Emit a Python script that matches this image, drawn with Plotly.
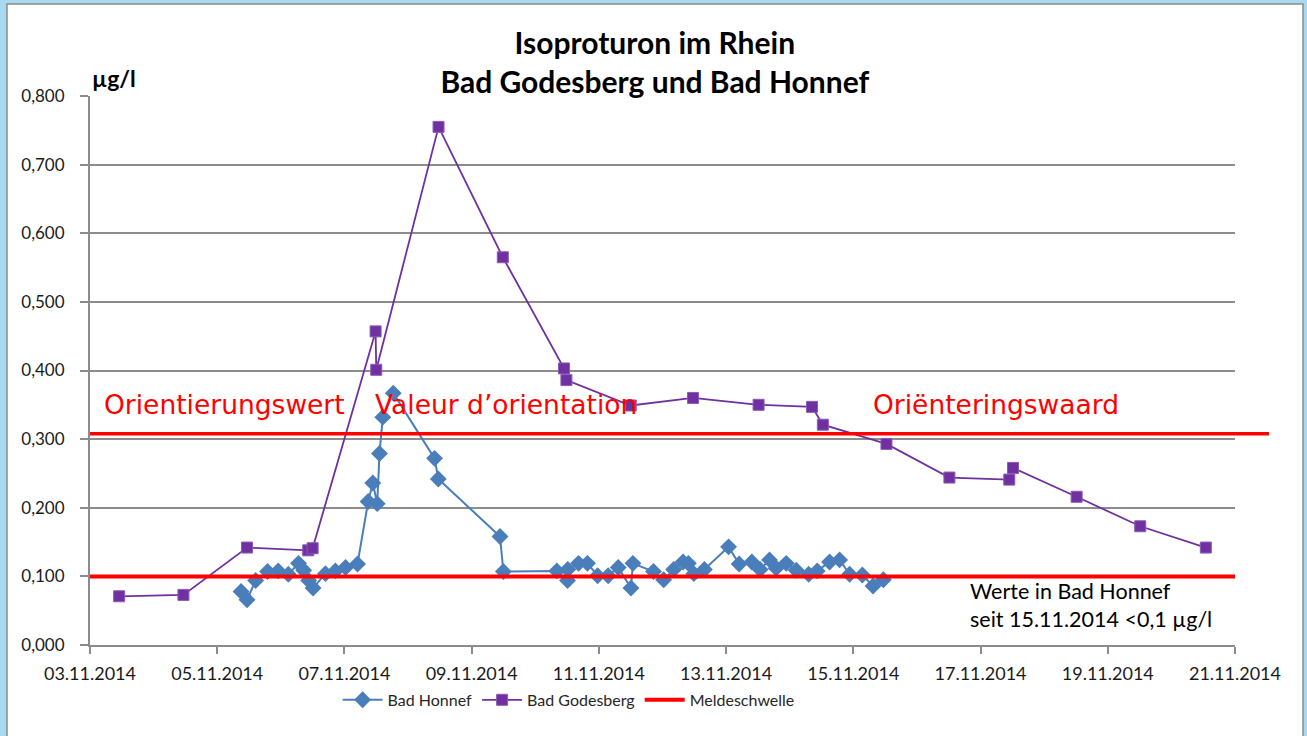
import plotly.graph_objects as go

# ---------------- data ----------------
honnef_time = [
    "2014-11-05 09:00", "2014-11-05 11:15", "2014-11-05 14:30", "2014-11-05 19:00",
    "2014-11-05 23:00", "2014-11-06 02:50", "2014-11-06 06:40", "2014-11-06 08:37",
    "2014-11-06 10:30", "2014-11-06 12:10", "2014-11-06 16:50", "2014-11-06 20:35",
    "2014-11-07 00:25", "2014-11-07 04:55", "2014-11-07 08:57", "2014-11-07 10:42",
    "2014-11-07 12:22", "2014-11-07 13:13", "2014-11-07 14:28", "2014-11-07 18:25",
    "2014-11-08 10:00", "2014-11-08 11:25", "2014-11-09 10:42", "2014-11-09 11:58",
    "2014-11-10 08:08", "2014-11-10 12:10", "2014-11-10 12:15", "2014-11-10 16:19",
    "2014-11-10 19:41", "2014-11-10 23:31", "2014-11-11 03:30", "2014-11-11 07:18",
    "2014-11-11 12:06", "2014-11-11 12:50", "2014-11-11 20:36", "2014-11-12 00:27",
    "2014-11-12 04:13", "2014-11-12 07:45", "2014-11-12 09:45", "2014-11-12 11:50",
    "2014-11-12 15:48", "2014-11-13 00:56", "2014-11-13 04:55", "2014-11-13 09:43",
    "2014-11-13 12:50", "2014-11-13 16:22", "2014-11-13 18:53", "2014-11-13 22:41",
    "2014-11-14 02:27", "2014-11-14 07:10", "2014-11-14 10:23", "2014-11-14 15:03",
    "2014-11-14 18:49", "2014-11-14 22:36", "2014-11-15 03:24", "2014-11-15 07:26",
    "2014-11-15 11:20",
]
honnef_value = [
    0.078, 0.066, 0.094, 0.107, 0.108, 0.103, 0.119, 0.109,
    0.094, 0.083, 0.104, 0.108, 0.113, 0.118, 0.209, 0.236,
    0.206, 0.279, 0.332, 0.367, 0.272, 0.242, 0.158, 0.107,
    0.108, 0.094, 0.110, 0.119, 0.119, 0.101, 0.101, 0.113,
    0.083, 0.119, 0.107, 0.095, 0.110, 0.121, 0.119, 0.104,
    0.110, 0.143, 0.118, 0.121, 0.110, 0.124, 0.112, 0.119,
    0.109, 0.103, 0.108, 0.121, 0.124, 0.103, 0.102, 0.086,
    0.095,
]

godesberg_time = [
    "2014-11-03 11:00", "2014-11-04 11:15", "2014-11-05 11:15", "2014-11-06 10:20",
    "2014-11-06 12:00", "2014-11-07 11:45", "2014-11-07 12:00", "2014-11-08 11:30",
    "2014-11-09 11:45", "2014-11-10 10:50", "2014-11-10 11:45", "2014-11-11 12:00",
    "2014-11-12 11:30", "2014-11-13 12:15", "2014-11-14 08:25", "2014-11-14 12:30",
    "2014-11-15 12:30", "2014-11-16 12:15", "2014-11-17 10:50", "2014-11-17 12:15",
    "2014-11-18 12:15", "2014-11-19 12:15", "2014-11-20 13:00",
]
godesberg_value = [
    0.071, 0.073, 0.142, 0.138, 0.141, 0.457, 0.401, 0.755,
    0.565, 0.403, 0.386, 0.349, 0.360, 0.350, 0.347, 0.321,
    0.293, 0.244, 0.241, 0.258, 0.216, 0.173, 0.142,
]

meldeschwelle_time = ["2014-11-03", "2014-11-21"]
meldeschwelle_value = [0.1, 0.1]
orientierungswert = 0.308

x_range = ["2014-11-03", "2014-11-21"]
y_range = [0, 0.8]

title_text = "Isoproturon im Rhein<br>Bad Godesberg und Bad Honnef"
unit_text = "µg/l"
orient_labels = ["Orientierungswert", "Valeur d’orientation", "Oriënteringswaard"]
note_text = "Werte in Bad Honnef<br>seit 15.11.2014 <0,1 µg/l"

# ---------------- figure ----------------
BLUE = "#4A7EBB"
PURPLE = "#7030A0"
RED = "#FF0000"
GRID = "#8C8C8C"
FRAME_BG = "#A9D9EF"
FONT = "Lato, 'Open Sans', sans-serif"

fig = go.Figure()
fig.add_trace(go.Scatter(
    x=honnef_time, y=honnef_value, name="Bad Honnef", mode="lines+markers",
    line=dict(color=BLUE, width=2),
    marker=dict(symbol="diamond", size=13, color=BLUE, line=dict(color=BLUE, width=0)),
))
fig.add_trace(go.Scatter(
    x=godesberg_time, y=godesberg_value, name="Bad Godesberg", mode="lines+markers",
    line=dict(color=PURPLE, width=1.8),
    marker=dict(symbol="square", size=11, color=PURPLE, line=dict(color="#8a5bb8", width=1)),
))
fig.add_trace(go.Scatter(
    x=meldeschwelle_time, y=meldeschwelle_value, name="Meldeschwelle", mode="lines",
    line=dict(color=RED, width=4), cliponaxis=False,
))

# page background: light blue frame with white panel
fig.add_shape(type="rect", xref="paper", yref="paper",
              x0=-0.0725, x1=1.0594, y0=-0.25, y1=1.1676,
              fillcolor="white", line=dict(color="#8C8C8C", width=1.5), layer="below")

# Orientierungswert line (drawn across and beyond the plot)
fig.add_shape(type="line", xref="paper", yref="y",
              x0=0, x1=1.0297, y0=orientierungswert, y1=orientierungswert,
              line=dict(color=RED, width=3.5))

# red labels
for txt, xc in zip(orient_labels, [0.1179, 0.3633, 0.7913]):
    fig.add_annotation(text=txt, xref="paper", yref="y", x=xc, y=0.351,
                       showarrow=False, xanchor="center", yanchor="middle",
                       font=dict(family="DejaVu Sans", size=26.5, color=RED))

fig.add_annotation(text=unit_text, xref="paper", yref="paper", x=0.0, y=1.033,
                   showarrow=False, xanchor="left", yanchor="middle",
                   font=dict(family=FONT, size=23, color="black", weight="bold"))

fig.add_annotation(text=note_text, xref="paper", yref="paper", x=0.7668, y=0.0729,
                   showarrow=False, xanchor="left", yanchor="middle", align="left",
                   font=dict(family=FONT, size=21.5, color="black"))

fig.update_layout(
    width=1307, height=736,
    margin=dict(l=90, r=72, t=96, b=91),
    paper_bgcolor=FRAME_BG,
    plot_bgcolor="white",
    separators=",.",
    title=dict(text=title_text, x=0.501, xanchor="center", y=0.927, yanchor="middle",
               font=dict(family=FONT, size=30, color="black", weight="bold")),
    showlegend=True,
    legend=dict(orientation="h", x=0.418, xanchor="center", y=-0.1, yanchor="middle",
                font=dict(family=FONT, size=16, color="#262626"),
                bgcolor="rgba(0,0,0,0)", itemwidth=40, traceorder="normal"),
    font=dict(family=FONT, color="#262626"),
)

fig.update_xaxes(
    type="date", range=x_range, tick0="2014-11-03", dtick=2 * 86400000,
    tickformat="%d.%m.%Y", showgrid=False, showline=True, linecolor=GRID, linewidth=2,
    ticks="outside", ticklen=7, tickcolor=GRID, tickwidth=2, ticklabelstandoff=4,
    tickfont=dict(family=FONT, size=18, color="#1a1a1a"), zeroline=False,
)
fig.update_yaxes(
    range=y_range, dtick=0.1, tickformat=".3f", showgrid=True, gridcolor=GRID,
    gridwidth=1.5, showline=True, linecolor=GRID, linewidth=2,
    ticks="outside", ticklen=8, tickcolor=GRID, tickwidth=2, ticklabelstandoff=12,
    tickfont=dict(family=FONT, size=17, color="#1a1a1a"), zeroline=False,
)

fig.write_html(
    "out.html",
    config={"displayModeBar": False},
    post_script="document.body.style.margin='0';document.body.style.background='" + FRAME_BG + "';",
)
